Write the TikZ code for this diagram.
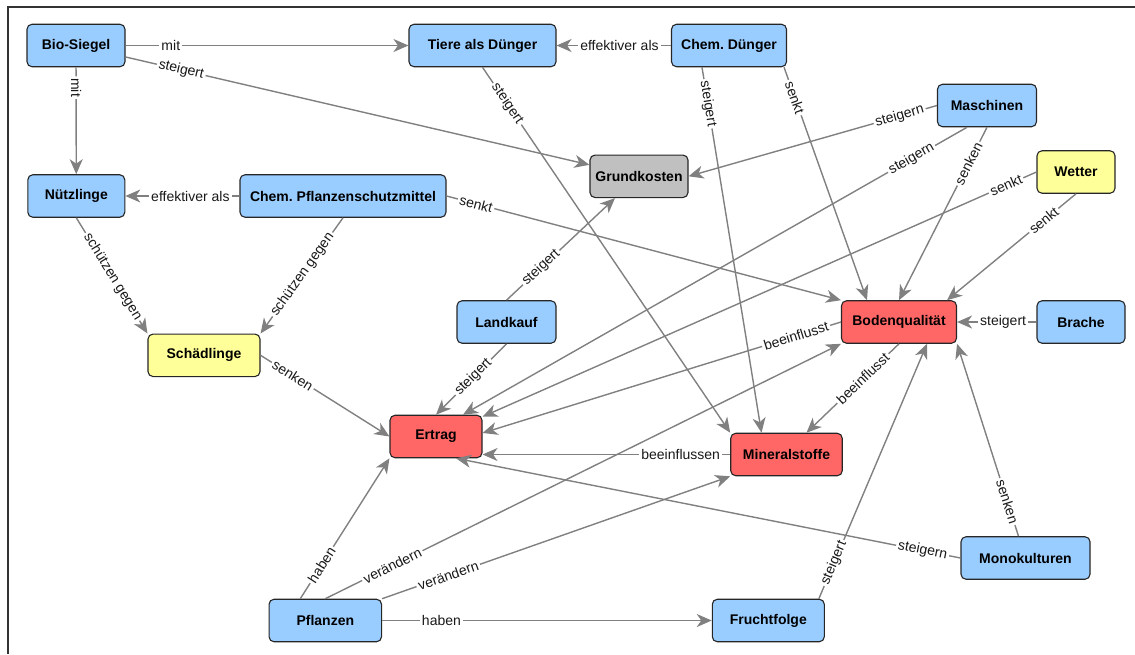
\documentclass[tikz,border=0pt]{standalone}
\usepackage{fontspec}
\setmainfont{Liberation Sans}
\frenchspacing
\usetikzlibrary{arrows.meta}
\definecolor{cblue}{RGB}{153,204,255}
\definecolor{cyellow}{RGB}{255,255,153}
\definecolor{cred}{RGB}{255,102,102}
\definecolor{cgray}{RGB}{192,192,192}
\definecolor{cline}{RGB}{128,128,128}
\tikzset{
  concept/.style={draw=black!85, line width=1.1pt, rounded corners=5pt, fill=#1,
    minimum height=42.5pt, inner sep=0pt, font=\fontsize{14}{16}\selectfont\bfseries},
  link/.style={draw=cline, line width=1.4pt, -{Stealth[length=15pt,width=13pt,inset=4.5pt]}},
  lab/.style={fill=white, inner sep=2pt, sloped, text=black!90, font=\fontsize{14}{16}\selectfont}
}

\begin{document}
\begin{tikzpicture}[x=1pt,y=-1pt]
\useasboundingbox (0,0) rectangle (1135,654);
\draw[line width=1.5pt, black!80] (8,654) -- (8,7) -- (1135,7);
% concepts
\node[concept=cblue, minimum width=98pt] (bio) at (76,45.5) {Bio-Siegel};
\node[concept=cblue, minimum width=147pt] (tiere) at (482.5,45.5) {Tiere als Dünger};
\node[concept=cblue, minimum width=115pt] (chemd) at (729,45.5) {Chem. Dünger};
\node[concept=cblue, minimum width=99pt] (masch) at (987,105.5) {Maschinen};
\node[concept=cyellow, minimum width=78pt] (wetter) at (1076,172) {Wetter};
\node[concept=cgray, minimum width=98pt] (grund) at (639,176.3) {Grundkosten};
\node[concept=cblue, minimum width=97pt] (nuetz) at (76.3,196) {Nützlinge};
\node[concept=cblue, minimum width=206pt] (cps) at (343,196) {Chem. Pflanzenschutzmittel};
\node[concept=cyellow, minimum width=112pt] (schaed) at (204,355.3) {Schädlinge};
\node[concept=cblue, minimum width=99pt] (landkauf) at (506.5,322) {Landkauf};
\node[concept=cred, minimum width=115pt] (boden) at (899,322) {Bodenqualität};
\node[concept=cblue, minimum width=88pt] (brache) at (1081,322) {Brache};
\node[concept=cred, minimum width=92pt] (ertrag) at (436,436.5) {Ertrag};
\node[concept=cred, minimum width=111.5pt] (mineral) at (786.5,454.5) {Mineralstoffe};
\node[concept=cblue, minimum width=112.5pt] (pflanzen) at (325.3,620.5) {Pflanzen};
\node[concept=cblue, minimum width=112pt] (frucht) at (768.3,620.5) {Fruchtfolge};
\node[concept=cblue, minimum width=129pt] (mono) at (1025.5,558) {Monokulturen};
% links
\draw[link] (bio) -- node[lab,pos=.16]{mit} (tiere);
\draw[link] (bio) -- node[lab,pos=.19]{mit} (nuetz);
\draw[link] (bio) -- node[lab,pos=.12]{steigert} (grund);
\draw[link] (chemd) -- node[lab,pos=.45]{effektiver als} (tiere);
\draw[link] (tiere.south) -- node[lab,pos=.1]{steigert} (mineral.north west);
\draw[link] ([xshift=-27pt]chemd.south) -- node[lab,pos=.1]{steigert} ([xshift=-25pt]mineral.north);
\draw[link] ([xshift=-3pt]chemd.south east) -- node[lab,pos=.13]{senkt} ([xshift=-32pt]boden.north);
\draw[link] (masch.west) -- node[lab,pos=.15]{steigern} (grund.east);
\draw[link] ([xshift=-20pt]masch.south) -- node[lab,pos=.11]{steigern} ([xshift=27pt]ertrag.north);
\draw[link] (masch.south) -- node[lab,pos=.21]{senken} (boden.north);
\draw[link] (wetter.west) -- node[lab,pos=.055]{senkt} ([yshift=-2pt]ertrag.north east);
\draw[link] (wetter.south) -- node[lab,pos=.25]{senkt} ([xshift=-10pt]boden.north east);
\draw[link] (cps) -- node[lab,pos=.43]{effektiver als} (nuetz);
\draw[link] (cps.east) -- node[lab,pos=.075]{senkt} (boden.north west);
\draw[link] (cps.south) -- node[lab,pos=.49]{schützen gegen} (schaed.north east);
\draw[link] (nuetz.south) -- node[lab,pos=.51]{schützen gegen} (schaed.north west);
\draw[link] (schaed.east) -- node[lab,pos=.25]{senken} (ertrag.west);
\draw[link] (landkauf.north) -- node[lab,pos=.32]{steigert} ([xshift=-24pt]grund.south);
\draw[link] (landkauf.south) -- node[lab,pos=.47]{steigert} (ertrag.north);
\draw[link] (brache) -- node[lab,pos=.42]{steigert} (boden);
\draw[link] (boden.south) -- node[lab,pos=.39]{beeinflusst} ([xshift=20pt]mineral.north);
\draw[link] (boden.west) -- node[lab,pos=.125]{beeinflusst} ([yshift=3.5pt]ertrag.east);
\draw[link] (mineral.west) -- node[lab,pos=.2]{beeinflussen} (mineral.west -| ertrag.east);
\draw[link] ([xshift=-25pt]pflanzen.north) -- node[lab,pos=.24]{haben} (ertrag.south west);
\draw[link] (pflanzen.north) -- node[lab,pos=.13]{verändern} (boden.south west);
\draw[link] (pflanzen.north east) -- node[lab,pos=.19]{verändern} (mineral.south west);
\draw[link] (pflanzen) -- node[lab,pos=.18]{haben} (frucht);
\draw[link] ([xshift=-6pt]frucht.north east) -- node[lab,pos=.14]{steigert} ([xshift=28pt]boden.south);
\draw[link] ([xshift=-7pt]mono.north) -- node[lab,pos=.18]{senken} (boden.south east);
\draw[link] (mono.west) -- node[lab,pos=.075]{steigern} ([xshift=20pt]ertrag.south);
\end{tikzpicture}
\end{document}
